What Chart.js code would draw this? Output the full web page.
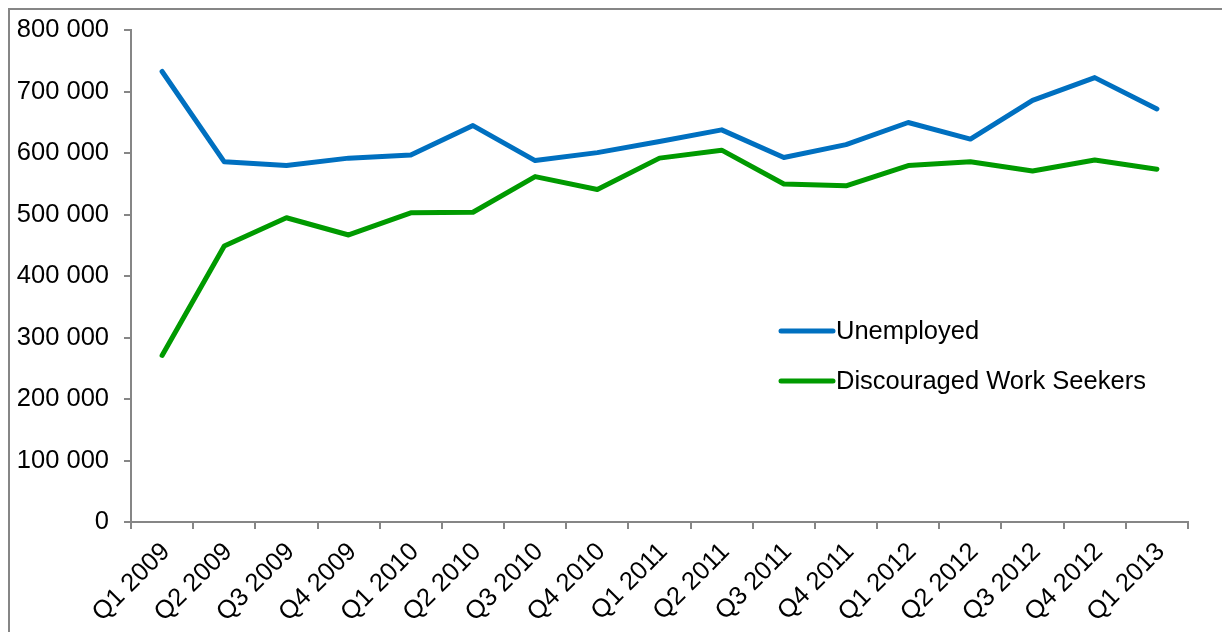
<!DOCTYPE html>
<html>
<head>
<meta charset="utf-8">
<title>Unemployed and discouraged work seekers</title>
<script src="https://cdn.jsdelivr.net/npm/chart.js@4.4.1/dist/chart.umd.min.js"></script>
<style>
  html, body { margin: 0; padding: 0; background: #fff; }
  #wrap { position: relative; width: 1222px; height: 632px; }
</style>
</head>
<body>
<div id="wrap"><canvas id="chart" width="1222" height="632"></canvas></div>
<script>
// Quarterly labels
const quarters = [
  'Q1 2009', 'Q2 2009', 'Q3 2009', 'Q4 2009',
  'Q1 2010', 'Q2 2010', 'Q3 2010', 'Q4 2010',
  'Q1 2011', 'Q2 2011', 'Q3 2011', 'Q4 2011',
  'Q1 2012', 'Q2 2012', 'Q3 2012', 'Q4 2012',
  'Q1 2013'
];

// Series values
const unemployed = [
  733000, 586000, 580000, 592000,
  597000, 645000, 588000, 601000,
  619000, 638000, 593000, 614000,
  650000, 623000, 686000, 723000,
  672000
];
const discouraged = [
  271000, 449000, 495000, 467000,
  503000, 504000, 562000, 541000,
  592000, 605000, 550000, 547000,
  580000, 586000, 571000, 589000,
  574000
];

// Axis range
const yMin = 0;
const yMax = 800000;
const yStep = 100000;

const colors = {
  blue: '#0070C0',
  green: '#009A00',
  axis: '#868686',
  text: '#000000'
};

const fontFamily = '"Liberation Sans", Arial, sans-serif';
const fontSize = 25.5;

// number with a space as thousands separator
function spaced(v) {
  return String(v).replace(/\B(?=(\d{3})+(?!\d))/g, ' ');
}

// Frame round the picture (top and left edges only are visible)
const framePlugin = {
  id: 'frame',
  beforeDraw(chart) {
    const ctx = chart.ctx;
    ctx.save();
    ctx.strokeStyle = colors.axis;
    ctx.lineWidth = 2;
    ctx.beginPath();
    ctx.moveTo(9, chart.height + 2);
    ctx.lineTo(9, 9);
    ctx.lineTo(chart.width + 2, 9);
    ctx.stroke();
    ctx.restore();
  }
};

// Legend drawn inside the plot area
const insideLegend = {
  id: 'insideLegend',
  afterDraw(chart) {
    const ctx = chart.ctx;
    const x0 = 781, lineLen = 52, rowGap = 50, y0 = 331;
    ctx.save();
    ctx.font = fontSize + 'px ' + fontFamily;
    ctx.textBaseline = 'middle';
    ctx.textAlign = 'left';
    chart.data.datasets.forEach((ds, i) => {
      const y = y0 + i * rowGap;
      ctx.strokeStyle = ds.borderColor;
      ctx.lineWidth = 5;
      ctx.lineCap = 'round';
      ctx.beginPath();
      ctx.moveTo(x0, y);
      ctx.lineTo(x0 + lineLen, y);
      ctx.stroke();
      ctx.fillStyle = colors.text;
      ctx.fillText(ds.label, x0 + lineLen + 3, y + 1);
    });
    ctx.restore();
  }
};

new Chart(document.getElementById('chart').getContext('2d'), {
  type: 'line',
  data: {
    labels: quarters,
    datasets: [
      {
        label: 'Unemployed',
        data: unemployed,
        borderColor: colors.blue,
        backgroundColor: colors.blue,
        borderWidth: 5,
        pointRadius: 0,
        tension: 0,
        borderCapStyle: 'round',
        borderJoinStyle: 'round'
      },
      {
        label: 'Discouraged Work Seekers',
        data: discouraged,
        borderColor: colors.green,
        backgroundColor: colors.green,
        borderWidth: 5,
        pointRadius: 0,
        tension: 0,
        borderCapStyle: 'round',
        borderJoinStyle: 'round'
      }
    ]
  },
  options: {
    responsive: false,
    animation: false,
    layout: {
      padding: { left: 0, top: 27, right: 34, bottom: 0 }
    },
    plugins: {
      legend: { display: false },
      tooltip: { enabled: false }
    },
    scales: {
      x: {
        offset: true,
        border: { display: true, color: colors.axis, width: 2 },
        grid: {
          offset: true,
          drawOnChartArea: false,
          drawTicks: true,
          tickLength: 7,
          color: colors.axis,
          lineWidth: 2
        },
        ticks: {
          autoSkip: false,
          minRotation: 45,
          maxRotation: 45,
          padding: 8,
          labelOffset: 4,
          color: colors.text,
          font: { family: fontFamily, size: fontSize }
        },
        afterFit(scale) { scale.height = 110; }
      },
      y: {
        min: yMin,
        max: yMax,
        border: { display: true, color: colors.axis, width: 2 },
        grid: {
          drawOnChartArea: false,
          drawTicks: true,
          tickLength: 7,
          color: colors.axis,
          lineWidth: 2
        },
        ticks: {
          stepSize: yStep,
          padding: 15,
          color: colors.text,
          font: { family: fontFamily, size: fontSize },
          callback: (v) => spaced(v)
        },
        afterFit(scale) { scale.width = 131; }
      }
    }
  },
  plugins: [framePlugin, insideLegend]
});
</script>
</body>
</html>
